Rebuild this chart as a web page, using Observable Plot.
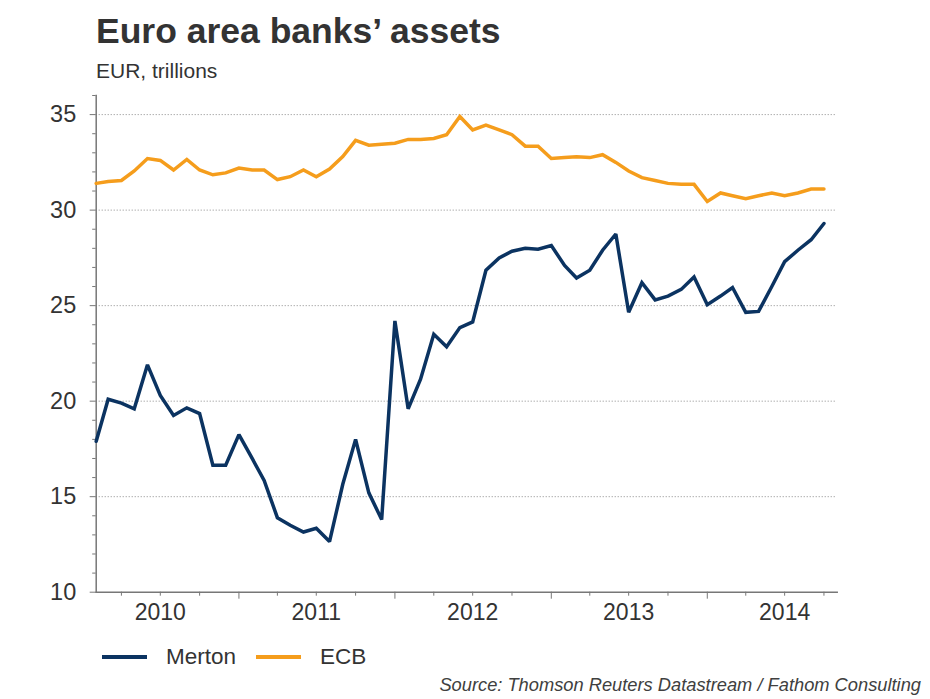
<!DOCTYPE html>
<html>
<head>
<meta charset="utf-8">
<script src="https://cdn.jsdelivr.net/npm/d3@7"></script>
<script src="https://cdn.jsdelivr.net/npm/@observablehq/plot@0.6"></script>
<style>
  body { margin: 0; background: #fff; font-family: "Liberation Sans", Arial, sans-serif; }
  #wrap { position: relative; width: 930px; height: 699px; overflow: hidden; background: #fff; }
  #title { position: absolute; left: 96px; top: 13px; font-size: 35.5px; line-height: 36px; font-weight: bold; color: #333; white-space: nowrap; }
  #subtitle { position: absolute; left: 96px; top: 60px; font-size: 21px; line-height: 21px; color: #333; white-space: nowrap; }
  #chart { position: absolute; left: 0; top: 0; }
  #legend { position: absolute; left: 102px; top: 644px; display: flex; align-items: center; font-size: 22.5px; color: #333; }
  .sw { width: 45px; height: 3.5px; display: inline-block; margin-right: 19px; }
  .item { display: flex; align-items: center; margin-right: 20px; }
  #source { position: absolute; right: 9px; top: 674px; font-size: 18.3px; font-style: italic; color: #404040; white-space: nowrap; }
</style>
</head>
<body>
<div id="wrap">
  <div id="title">Euro area banks’ assets</div>
  <div id="subtitle">EUR, trillions</div>
  <div id="chart"></div>
  <div id="legend"></div>
  <div id="source">Source: Thomson Reuters Datastream / Fathom Consulting</div>
</div>
<script>
// Monthly observations, Feb 2010 – Oct 2014
const months = [
  "2010-02","2010-03","2010-04","2010-05","2010-06","2010-07","2010-08","2010-09","2010-10","2010-11","2010-12",
  "2011-01","2011-02","2011-03","2011-04","2011-05","2011-06","2011-07","2011-08","2011-09","2011-10","2011-11","2011-12",
  "2012-01","2012-02","2012-03","2012-04","2012-05","2012-06","2012-07","2012-08","2012-09","2012-10","2012-11","2012-12",
  "2013-01","2013-02","2013-03","2013-04","2013-05","2013-06","2013-07","2013-08","2013-09","2013-10","2013-11","2013-12",
  "2014-01","2014-02","2014-03","2014-04","2014-05","2014-06","2014-07","2014-08","2014-09","2014-10"
];

const mertonValues = [
  17.9, 20.1, 19.9, 19.6, 21.9, 20.3, 19.25, 19.65, 19.35, 16.65, 16.65,
  18.25, 17.0, 15.85, 13.9, 13.5, 13.15, 13.35, 12.65, 15.65, 18.0, 15.2, 13.8,
  24.2, 19.6, 21.15, 23.5, 22.85, 23.85, 24.15, 26.85, 27.5, 27.85, 28.0, 27.95,
  28.15, 27.1, 26.45, 26.85, 27.9, 28.75, 24.65, 26.2, 25.3, 25.5, 25.85, 26.5,
  25.05, 25.5, 25.95, 24.65, 24.7, 26.0, 27.3, 27.9, 28.45, 29.3
];

const ecbValues = [
  31.4, 31.5, 31.55, 32.05, 32.7, 32.6, 32.1, 32.65, 32.1, 31.85, 31.95,
  32.2, 32.1, 32.1, 31.6, 31.75, 32.1, 31.75, 32.15, 32.8, 33.65, 33.4, 33.45,
  33.5, 33.7, 33.7, 33.75, 33.95, 34.9, 34.2, 34.45, 34.2, 33.95, 33.35, 33.35,
  32.7, 32.75, 32.8, 32.75, 32.9, 32.5, 32.05, 31.7, 31.55, 31.4, 31.35, 31.35,
  30.45, 30.9, 30.75, 30.6, 30.75, 30.9, 30.75, 30.9, 31.1, 31.1
];

const seriesNames = ["Merton", "ECB"];
const seriesColors = ["#0b3361", "#f59d1c"];

const yearLabels = [2010, 2011, 2012, 2013, 2014];
const yMajorTicks = [10, 15, 20, 25, 30, 35];
const yMinorTicks = [11,12,13,14,16,17,18,19,21,22,23,24,26,27,28,29,31,32,33,34,36];
const quarterTicks = [
  "2010-04","2010-07","2010-10","2011-04","2011-07","2011-10","2012-04","2012-07","2012-10",
  "2013-04","2013-07","2013-10","2014-04","2014-07","2014-10"
];
const yearTicks = ["2011-01","2012-01","2013-01","2014-01"];
const xDomain = ["2010-02", "2014-11"];
const yDomain = [10, 36];

const parse = d3.utcParse("%Y-%m");
const rows = [];
months.forEach((m, i) => {
  rows.push({date: parse(m), value: mertonValues[i], series: "Merton"});
  rows.push({date: parse(m), value: ecbValues[i], series: "ECB"});
});

const chart = Plot.plot({
  width: 930,
  height: 645,
  marginLeft: 95.7,
  marginRight: 93.3,
  marginTop: 95,
  marginBottom: 53.3,
  style: {fontFamily: "'Liberation Sans', Arial, sans-serif", fontSize: "23px", color: "#333", background: "transparent", overflow: "visible"},
  x: {type: "utc", domain: xDomain.map(parse), label: null},
  y: {domain: yDomain, label: null},
  color: {domain: seriesNames, range: seriesColors},
  marks: [
    Plot.gridY(yMajorTicks.filter(v => v > yDomain[0]), {stroke: "#8a8a8a", strokeOpacity: 1, strokeWidth: 1, strokeDasharray: "1,2"}),
    Plot.axisY(yMinorTicks, {tickSize: 3.5, tickFormat: () => "", stroke: "#777", label: null}),
    Plot.axisY(yMajorTicks, {tickSize: 6, tickPadding: 14, stroke: "#777", fontSize: 23.5, label: null}),
    Plot.axisX(quarterTicks.map(parse), {tickSize: 4, tickFormat: () => "", stroke: "#777", label: null}),
    Plot.axisX(yearTicks.map(parse), {tickSize: 7, tickFormat: () => "", stroke: "#777", label: null}),
    Plot.axisX(yearLabels.map(y => new Date(Date.UTC(y, 6, 1))), {tickSize: 0, tickPadding: 11, tickFormat: d3.utcFormat("%Y"), fontSize: 23, label: null}),
    Plot.frame({anchor: "left", stroke: "#777", strokeWidth: 1.5}),
    Plot.frame({anchor: "bottom", stroke: "#777", strokeWidth: 1.5}),
    Plot.line(rows, {x: "date", y: "value", z: "series", stroke: "series", strokeWidth: 3.5, strokeLinejoin: "miter", strokeMiterlimit: 2})
  ]
});
document.getElementById("chart").appendChild(chart);

const legend = document.getElementById("legend");
seriesNames.forEach((name, i) => {
  const item = document.createElement("div");
  item.className = "item";
  const sw = document.createElement("span");
  sw.className = "sw";
  sw.style.background = seriesColors[i];
  item.appendChild(sw);
  item.appendChild(document.createTextNode(name));
  legend.appendChild(item);
});
</script>
</body>
</html>
